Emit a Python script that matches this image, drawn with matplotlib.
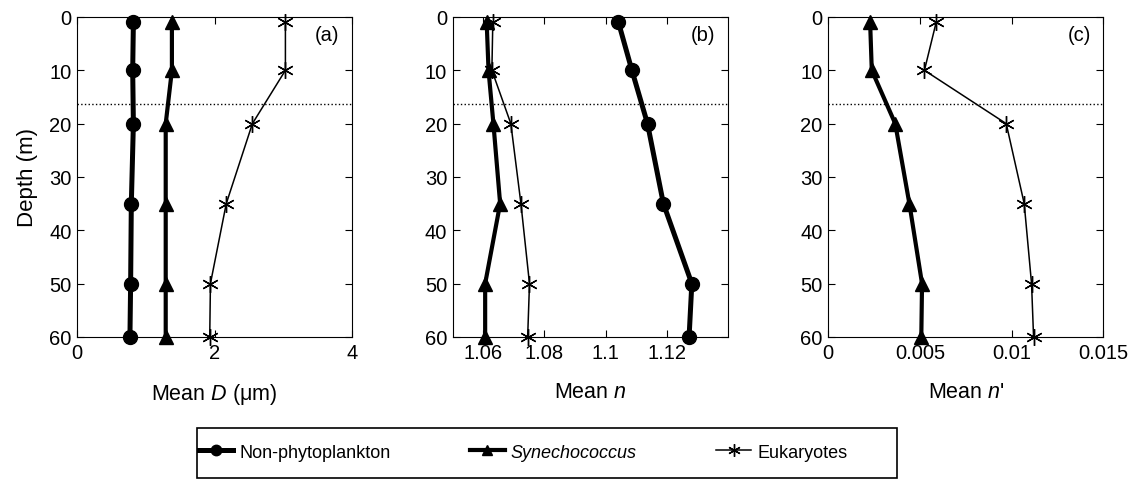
import matplotlib
matplotlib.use("Agg")
import matplotlib.pyplot as plt
from matplotlib.patches import Rectangle

plt.rcParams['font.family'] = ['Liberation Sans', 'DejaVu Sans']
plt.rcParams['mathtext.fontset'] = 'custom'
plt.rcParams['mathtext.rm'] = 'Liberation Sans'
plt.rcParams['mathtext.it'] = 'Liberation Sans:italic'
plt.rcParams['font.size'] = 13

# sampling depths (m)
depth = [1, 10, 20, 35, 50, 60]
mld = 16.3  # mixed layer depth

# (a) mean diameter D (um)
D_nonphyto = [0.82, 0.81, 0.82, 0.79, 0.78, 0.77]
D_syn = [1.38, 1.38, 1.29, 1.29, 1.29, 1.29]
D_euk = [3.03, 3.03, 2.55, 2.17, 1.94, 1.93]

# (b) mean real refractive index n
n_nonphyto = [1.1042, 1.1086, 1.1137, 1.1189, 1.1282, 1.1273]
n_syn = [1.0611, 1.0617, 1.0633, 1.0655, 1.0606, 1.0606]
n_euk = [1.0631, 1.0628, 1.0690, 1.0723, 1.0751, 1.0745]

# (c) mean imaginary refractive index n'
ni_syn = [0.00228, 0.00237, 0.00365, 0.00442, 0.00511, 0.00507]
ni_euk = [0.00588, 0.00524, 0.00970, 0.01068, 0.01108, 0.01119]

xlims = [(0, 4), (1.05, 1.14), (0, 0.015)]
xticks = [[0, 2, 4], [1.06, 1.08, 1.1, 1.12], [0, 0.005, 0.01, 0.015]]
xticklabels = [['0', '2', '4'], ['1.06', '1.08', '1.1', '1.12'],
               ['0', '0.005', '0.01', '0.015']]
xlabels = ['Mean $D$ (\u03bcm)', 'Mean $n$', "Mean $n$'"]
panel_tags = ['(a)', '(b)', '(c)']
legend_labels = ['Non-phytoplankton', 'Synechococcus', 'Eukaryotes']

fig = plt.figure(figsize=(11.37, 4.81), dpi=100)
lefts = [0.0677, 0.3982, 0.7285]
width = 0.2420
bottom, height = 0.2973, 0.6653

np_style = dict(color='k', lw=3.6, marker='o', ms=10)
syn_style = dict(color='k', lw=3.0, marker='^', ms=10)
euk_style = dict(color='k', lw=1.1, marker=(6, 2, 0), ms=12, mew=1.0)

series = [(D_nonphyto, D_syn, D_euk), (n_nonphyto, n_syn, n_euk),
          (None, ni_syn, ni_euk)]

for i in range(3):
    ax = fig.add_axes([lefts[i], bottom, width, height])
    npl, syn, euk = series[i]
    h1 = None
    if npl is not None:
        h1, = ax.plot(npl, depth, clip_on=False, zorder=3, **np_style)
    h2, = ax.plot(syn, depth, clip_on=False, zorder=3, **syn_style)
    h3, = ax.plot(euk, depth, clip_on=False, zorder=3, **euk_style)
    if i == 0:
        handles = [h1, h2, h3]
    ax.axhline(mld, color='k', ls=':', lw=1.0)
    ax.set_xlim(*xlims[i])
    ax.set_ylim(60, 0)
    ax.set_yticks([0, 10, 20, 30, 40, 50, 60])
    ax.set_xticks(xticks[i])
    ax.set_xticklabels(xticklabels[i])
    ax.tick_params(direction='in', top=True, right=True, length=5, width=0.8,
                   labelsize=14.5, pad=4)
    ax.set_xlabel(xlabels[i], fontsize=15.5, labelpad=14)
    if i == 0:
        ax.set_ylabel('Depth (m)', fontsize=16, labelpad=8)
    ax.text(0.955, 0.975, panel_tags[i], transform=ax.transAxes,
            ha='right', va='top', fontsize=14.5)
    for sp in ax.spines.values():
        sp.set_linewidth(0.8)

# legend strip below the panels
leg = fig.legend(handles, legend_labels, loc='center left',
                 bbox_to_anchor=(199 / 1137, 0.058), ncol=3, fontsize=13,
                 handlelength=1.9, handletextpad=0.35, columnspacing=4.4,
                 borderpad=0, borderaxespad=0, frameon=False, markerscale=0.75)
leg.get_texts()[1].set_style('italic')
fig.add_artist(Rectangle((0.1733, 0.0042), 0.6157, 0.104, transform=fig.transFigure,
                         fill=False, edgecolor='k', lw=1.2))

fig.savefig('out.png', dpi=100)
